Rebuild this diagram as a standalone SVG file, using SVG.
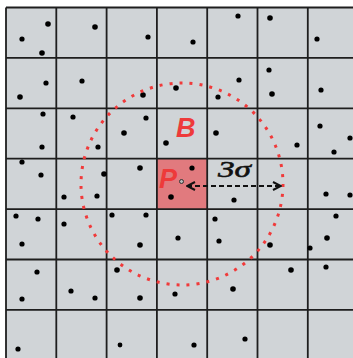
<svg xmlns="http://www.w3.org/2000/svg" width="353" height="358" viewBox="0 0 353 358">
<defs>
<style>
.grid line{stroke:#1e1e1e;stroke-width:1.8}
.dots circle{fill:#000}
.lbl{font-family:"Liberation Sans",Arial,sans-serif;font-style:italic;font-weight:bold;font-size:27px;fill:#ee3a3a}
.sig{font-family:"Liberation Serif","Times New Roman",serif;font-style:italic;font-size:24px;fill:#111;stroke:#111;stroke-width:0.6}
</style>
<marker id="ah" viewBox="0 0 10 10" refX="9" refY="5" markerWidth="10" markerHeight="10" markerUnits="userSpaceOnUse" orient="auto-start-reverse">
<path d="M1,1 L9,5 L1,9" fill="none" stroke="#111" stroke-width="2"/>
</marker>
</defs>
<rect width="353" height="358" fill="#fff"/>
<rect x="6" y="7.5" width="347" height="350.5" fill="#d0d4d7"/>
<g id="cellP"><rect x="156.9" y="158.7" width="50.3" height="50.4" fill="#e17a7e"/></g>
<g class="grid" id="grid">
<line x1="6" y1="7.5" x2="6" y2="358"/>
<line x1="56.3" y1="7.5" x2="56.3" y2="358"/>
<line x1="106.6" y1="7.5" x2="106.6" y2="358"/>
<line x1="156.9" y1="7.5" x2="156.9" y2="358"/>
<line x1="207.2" y1="7.5" x2="207.2" y2="358"/>
<line x1="257.5" y1="7.5" x2="257.5" y2="358"/>
<line x1="307.8" y1="7.5" x2="307.8" y2="358"/>
<line x1="6" y1="7.5" x2="353" y2="7.5"/>
<line x1="6" y1="57.9" x2="353" y2="57.9"/>
<line x1="6" y1="108.3" x2="353" y2="108.3"/>
<line x1="6" y1="158.7" x2="353" y2="158.7"/>
<line x1="6" y1="209.1" x2="353" y2="209.1"/>
<line x1="6" y1="259.5" x2="353" y2="259.5"/>
<line x1="6" y1="309.9" x2="353" y2="309.9"/>
</g>
<g class="dots" id="points">
<circle cx="48" cy="24" r="2.8"/><circle cx="22" cy="39" r="2.6"/><circle cx="42" cy="53" r="2.8"/><circle cx="95" cy="27" r="2.8"/><circle cx="148" cy="37" r="2.6"/><circle cx="193" cy="42" r="2.6"/><circle cx="238" cy="16" r="2.6"/><circle cx="270" cy="18" r="2.8"/><circle cx="317" cy="39" r="2.6"/>
<circle cx="46" cy="83" r="2.6"/><circle cx="20" cy="97" r="2.8"/><circle cx="82" cy="81" r="2.6"/><circle cx="143" cy="95" r="2.8"/><circle cx="176" cy="88" r="2.8"/><circle cx="269" cy="70" r="2.6"/><circle cx="239" cy="80" r="2.6"/><circle cx="272" cy="94" r="2.8"/><circle cx="218" cy="97" r="2.6"/><circle cx="321" cy="90" r="2.6"/>
<circle cx="43" cy="114" r="2.6"/><circle cx="73" cy="117" r="2.6"/><circle cx="146" cy="118" r="2.6"/><circle cx="124" cy="133" r="2.8"/><circle cx="42" cy="147" r="2.6"/><circle cx="98" cy="147" r="2.6"/><circle cx="166" cy="143" r="2.8"/><circle cx="216" cy="133" r="2.8"/><circle cx="320" cy="126" r="2.6"/><circle cx="350" cy="138" r="2.6"/><circle cx="297" cy="145" r="2.6"/><circle cx="334" cy="152" r="2.6"/>
<circle cx="22" cy="162" r="2.6"/><circle cx="41" cy="175" r="2.6"/><circle cx="140" cy="168" r="2.8"/><circle cx="104" cy="174" r="2.8"/><circle cx="192" cy="168" r="2.6"/><circle cx="64" cy="197" r="2.6"/><circle cx="97" cy="196" r="2.6"/><circle cx="171" cy="197" r="2.8"/><circle cx="234" cy="200" r="2.6"/><circle cx="326" cy="194" r="2.6"/><circle cx="350" cy="195" r="2.6"/>
<circle cx="16" cy="216" r="2.6"/><circle cx="38" cy="219" r="2.6"/><circle cx="64" cy="224" r="2.6"/><circle cx="112" cy="215" r="2.6"/><circle cx="146" cy="215" r="2.6"/><circle cx="22" cy="244" r="2.6"/><circle cx="140" cy="245" r="2.8"/><circle cx="178" cy="238" r="2.6"/><circle cx="215" cy="219" r="2.6"/><circle cx="336" cy="216" r="2.6"/><circle cx="219" cy="241" r="2.6"/><circle cx="270" cy="245" r="2.8"/><circle cx="327" cy="238" r="2.8"/><circle cx="310" cy="248" r="2.6"/>
<circle cx="37" cy="272" r="2.6"/><circle cx="117" cy="270" r="2.8"/><circle cx="71" cy="291" r="2.6"/><circle cx="22" cy="299" r="2.6"/><circle cx="95" cy="298" r="2.6"/><circle cx="140" cy="298" r="2.8"/><circle cx="175" cy="294" r="2.6"/><circle cx="233" cy="289" r="2.8"/><circle cx="291" cy="270" r="2.8"/><circle cx="326" cy="267" r="2.6"/>
<circle cx="18" cy="349" r="2.6"/><circle cx="120" cy="345" r="2.4"/><circle cx="194" cy="345" r="2.6"/><circle cx="245" cy="339" r="2.6"/>
</g>
<g id="neighborhood">
<circle cx="182" cy="184" r="101" fill="none" stroke="#f03a3a" stroke-width="3" stroke-dasharray="3 7" pathLength="630"/>
</g>
<g id="connectors">
<line x1="187" y1="186" x2="281" y2="186" stroke="#111" stroke-width="2" stroke-dasharray="5 3" marker-start="url(#ah)" marker-end="url(#ah)"/>
</g>
<g id="center"><circle cx="181.5" cy="181.5" r="2" fill="#b8b8b8" stroke="#333" stroke-width="1"/></g>
<g id="labels">
<text class="lbl" x="176" y="137">B</text>
<text class="lbl" x="159" y="188">P</text>
<text class="sig" x="218" y="177" textLength="33" lengthAdjust="spacingAndGlyphs">3σ</text>
</g>
</svg>
